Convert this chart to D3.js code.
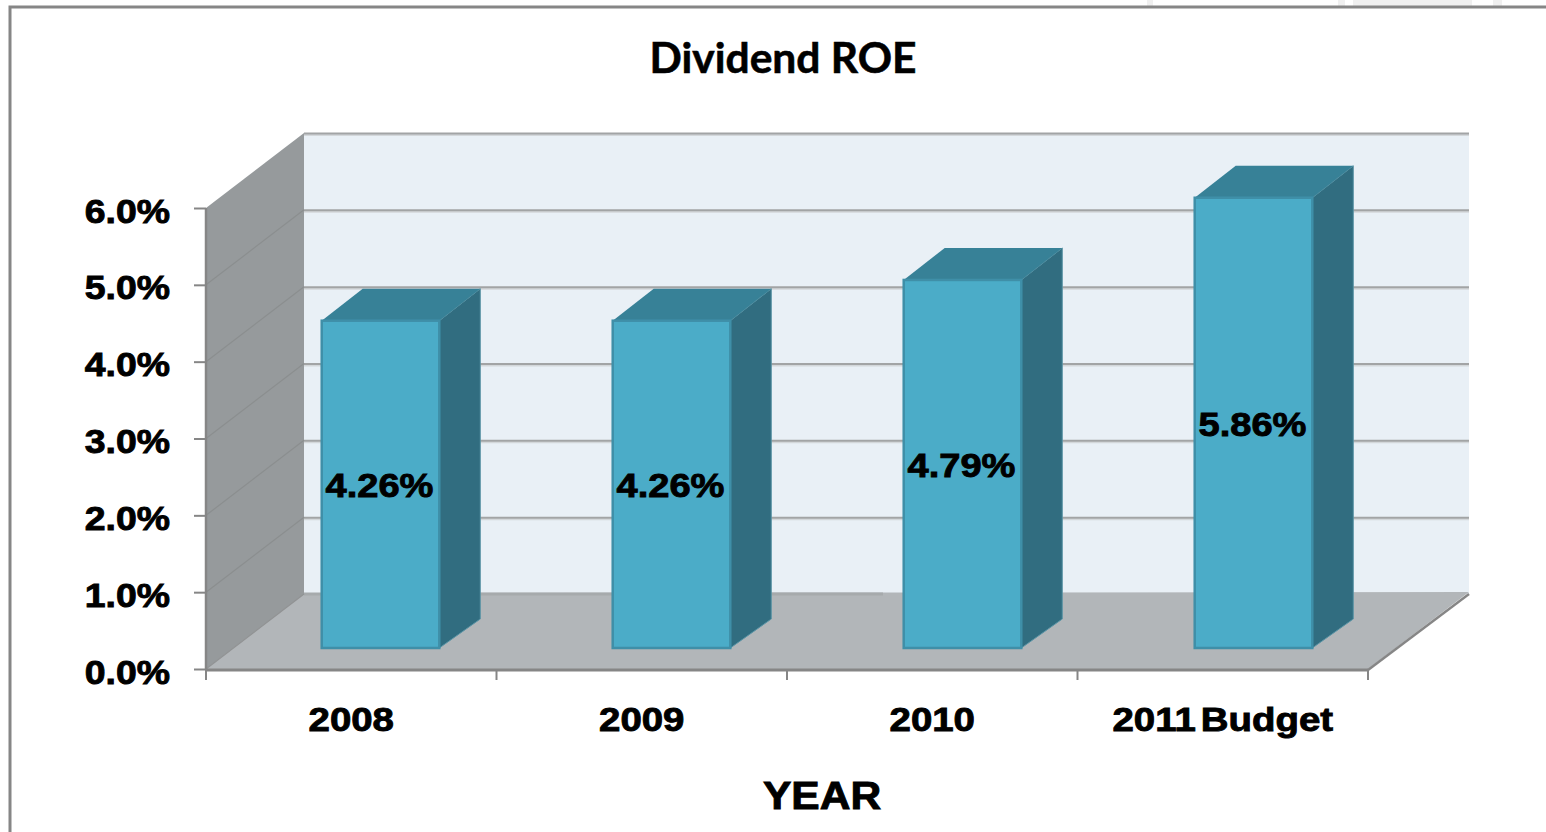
<!DOCTYPE html>
<html>
<head>
<meta charset="utf-8">
<script src="https://cdn.jsdelivr.net/npm/d3@7"></script>
<style>
  html, body { margin: 0; padding: 0; background: #fff; overflow: hidden; }
  svg { display: block; }
  .wide { font-family: "Liberation Sans", Arial, sans-serif; font-weight: 700; fill: #000; stroke: #000; stroke-width: 0.9px; }
</style>
</head>
<body>
<svg width="1546" height="832"></svg>
<script>
var categories = ['2008', '2009', '2010', '2011 Budget'];
var roeValues = [4.26, 4.26, 4.79, 5.86];
var yTicks = [0, 1, 2, 3, 4, 5, 6];
var chartTitle = 'Dividend ROE';
var xTitle = 'YEAR';

var svg = d3.select('svg');

var left = 206, right = 1368, bottom = 669, top6 = 208;
var depthX = 98, depthY = -75; // offset of the back wall from the front plane

var x = d3.scaleBand().domain(categories).range([left, right]).padding(0);
var y = d3.scaleLinear().domain([0, 6]).range([bottom, top6]);
var barScale = d3.scaleBand().domain(categories).range([left, right + 2]).paddingInner(0.596).paddingOuter(0.298);

function poly(points) {
  return points.map(function(p) { return p.join(','); }).join(' ');
}

// faint scraps above the frame
[[1147, 6], [1338, 7], [1353, 119], [1493, 9]].forEach(function(s) {
  svg.append('rect').attr('x', s[0]).attr('y', 0).attr('width', s[1]).attr('height', 6).attr('fill', '#f0f0f0');
});

// frame
svg.append('path')
  .attr('d', 'M1546,7H10V832')
  .attr('fill', 'none')
  .attr('stroke', '#868686')
  .attr('stroke-width', 3);

// back wall
svg.append('rect')
  .attr('x', left + depthX).attr('y', top6 + depthY)
  .attr('width', 1469 - left - depthX).attr('height', bottom - top6)
  .attr('fill', '#e9f0f6');

// floor
svg.append('polygon')
  .attr('points', poly([[left, bottom], [left + depthX, bottom + depthY - 1], [1469, bottom + depthY - 2], [right, bottom]]))
  .attr('fill', '#b2b6b9');

// back wall gridlines
var grid = svg.append('g');
grid.selectAll('line.light').data(yTicks.slice(1)).enter().append('line')
  .attr('x1', left + depthX).attr('x2', 1469)
  .attr('y1', function(d) { return y(d) + depthY + 2; })
  .attr('y2', function(d) { return y(d) + depthY + 2; })
  .attr('stroke', '#d3d7da').attr('stroke-width', 2);
grid.selectAll('line.dark').data(yTicks.slice(1)).enter().append('line')
  .attr('x1', left + depthX).attr('x2', 1469)
  .attr('y1', function(d) { return y(d) + depthY + 0.5; })
  .attr('y2', function(d) { return y(d) + depthY + 0.5; })
  .attr('stroke', '#a2a4a5').attr('stroke-width', 2);
grid.append('line')
  .attr('x1', left + depthX).attr('x2', 883)
  .attr('y1', y(0) + depthY).attr('y2', y(0) + depthY)
  .attr('stroke', '#a6aaac').attr('stroke-width', 3);

// left wall
svg.append('polygon')
  .attr('points', poly([[left, top6], [left + depthX, top6 + depthY], [left + depthX, bottom + depthY], [left, bottom]]))
  .attr('fill', '#969a9c');
svg.selectAll('line.wall').data(yTicks.slice(1, 6)).enter().append('line')
  .attr('x1', left).attr('x2', left + depthX)
  .attr('y1', function(d) { return y(d); })
  .attr('y2', function(d) { return y(d) + depthY; })
  .attr('stroke', '#8b8e8f').attr('stroke-width', 1.2);
svg.append('line')
  .attr('x1', left).attr('x2', left + depthX)
  .attr('y1', y(0)).attr('y2', y(0) + depthY)
  .attr('stroke', '#919394').attr('stroke-width', 1.2);
svg.append('line')
  .attr('x1', right).attr('x2', 1469)
  .attr('y1', y(0) + 1).attr('y2', y(0) + depthY)
  .attr('stroke', '#868686').attr('stroke-width', 2.5);

// bars
var barW = barScale.bandwidth();
var barDx = 29, barDy = -21, sideDx = 41, sideDy = -32;

function barX(d) { return barScale(d.cat) + barDx; }
function barY(d) { return y(d.value) + barDy; }

var data = categories.map(function(c, i) { return { cat: c, value: roeValues[i] }; });
var bars = svg.append('g').selectAll('g').data(data).enter().append('g');

bars.append('polygon')
  .attr('fill', '#316d80')
  .attr('stroke', '#5b95a6').attr('stroke-width', 1)
  .attr('points', function(d) {
    var x1 = barX(d) + barW, y0 = y(0) + barDy;
    return poly([[x1, barY(d)], [x1 + sideDx, barY(d) + sideDy], [x1 + sideDx, y0 + sideDy + 3], [x1, y0]]);
  });
bars.append('polygon')
  .attr('fill', '#378197')
  .attr('points', function(d) {
    var x0 = barX(d), yt = barY(d);
    return poly([[x0, yt], [x0 + sideDx, yt + sideDy], [x0 + barW + sideDx, yt + sideDy], [x0 + barW, yt]]);
  });
bars.append('rect')
  .attr('x', barX)
  .attr('y', barY)
  .attr('width', barW)
  .attr('height', function(d) { return y(0) - y(d.value); })
  .attr('fill', '#4bacc8')
  .attr('stroke', '#3f8fa8')
  .attr('stroke-width', 2.5);

// value labels
bars.append('text')
  .attr('class', 'wide')
  .attr('text-anchor', 'middle')
  .attr('font-size', 34)
  .attr('transform', function(d) {
    var cy = (barY(d) + y(0) + barDy) / 2;
    return 'translate(' + (barX(d) + barW / 2 - 1) + ',' + (cy + 13) + ') scale(1.12,1)';
  })
  .text(function(d) { return d.value.toFixed(2) + '%'; });

// y axis
var yAxis = svg.append('g')
  .attr('transform', 'translate(' + left + ',0)')
  .call(d3.axisLeft(y).tickValues(yTicks).tickSize(12).tickPadding(0)
    .tickFormat(function(d) { return d3.format('.1f')(d) + '%'; }));
yAxis.select('.domain').attr('stroke', '#868686').attr('stroke-width', 2.5).attr('d', 'M0,' + top6 + 'V' + bottom);
yAxis.selectAll('.tick line').attr('stroke', '#868686').attr('stroke-width', 2);
yAxis.selectAll('.tick text')
  .attr('class', 'wide')
  .attr('x', 0).attr('dy', null).attr('y', 0)
  .attr('text-anchor', 'end')
  .attr('font-size', 34)
  .attr('transform', 'translate(-36,14) scale(1.1,1)');

// x axis, labels through the band scale, ticks on the band edges
var xAxis = svg.append('g')
  .attr('transform', 'translate(0,' + (bottom + 1) + ')')
  .call(d3.axisBottom(x).tickSize(0).tickPadding(0));
xAxis.select('.domain').attr('stroke', '#868686').attr('stroke-width', 3).attr('d', 'M' + left + ',0H' + right);
xAxis.selectAll('.tick text')
  .attr('class', 'wide')
  .attr('y', 0).attr('dy', null)
  .attr('font-size', 34)
  .attr('word-spacing', -5)
  .attr('transform', 'translate(0,61) scale(1.13,1)');
var edges = categories.map(function(c) { return x(c); }).concat([right]);
svg.append('g').selectAll('line').data(edges).enter().append('line')
  .attr('x1', function(d) { return d; }).attr('x2', function(d) { return d; })
  .attr('y1', bottom + 1).attr('y2', bottom + 11)
  .attr('stroke', '#868686').attr('stroke-width', 2);

// titles
svg.append('text')
  .attr('x', 783).attr('y', 73)
  .attr('text-anchor', 'middle')
  .attr('font-family', 'Lato, "Open Sans", sans-serif')
  .attr('font-weight', 700)
  .attr('font-size', 42.5)
  .attr('fill', '#000')
  .attr('stroke', '#000')
  .attr('stroke-width', 0.6)
  .text(chartTitle);
svg.append('text')
  .attr('class', 'wide')
  .attr('text-anchor', 'middle')
  .attr('font-size', 38)
  .attr('transform', 'translate(822,809) scale(1.12,1)')
  .text(xTitle);
</script>
</body>
</html>
